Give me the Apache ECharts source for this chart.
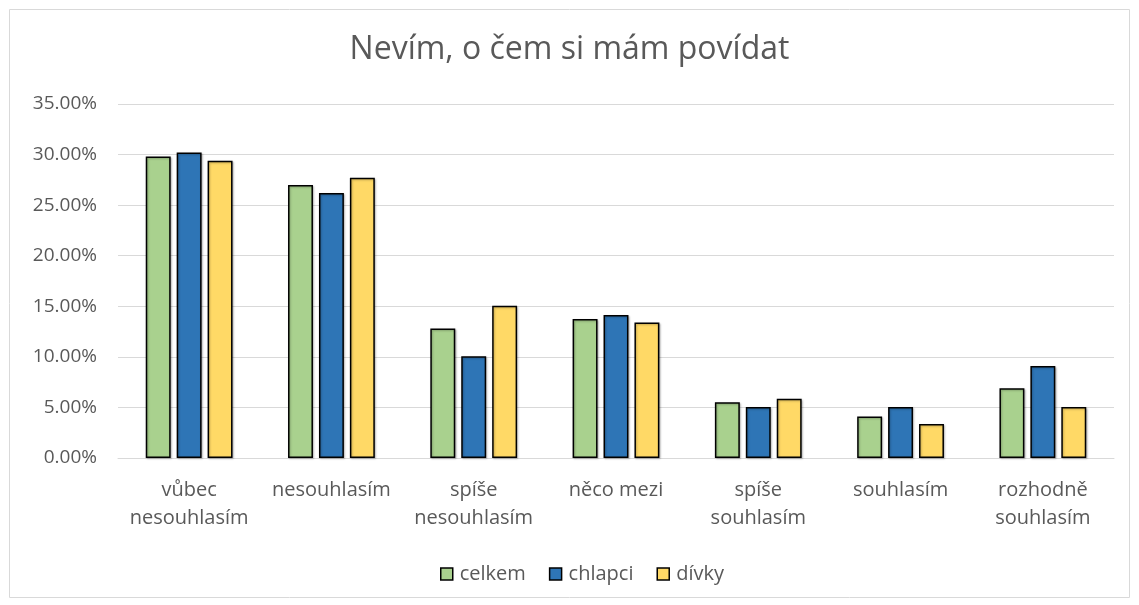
<!DOCTYPE html>
<html>
	<head>
		<meta charset="utf-8">
		<title>Nevím, o čem si mám povídat</title>
		<style type="text/css">
			html, body{
				margin: 0;
				padding: 0;
				background: #fff;
			}
			#chart{
				width: 1139px;
				height: 605px;
			}
		</style>
	</head>
	<body>
		<div id="chart"></div>

		<script src="https://cdn.jsdelivr.net/npm/echarts@6/dist/echarts.min.js"></script>
		<script>
			// 数据
			var categories = ['vůbec\nnesouhlasím', 'nesouhlasím', 'spíše\nnesouhlasím', 'něco mezi', 'spíše\nsouhlasím', 'souhlasím', 'rozhodně\nsouhlasím'];
			var celkem = [29.8, 27.0, 12.8, 13.75, 5.5, 4.1, 6.9];
			var chlapci = [30.2, 26.2, 10.05, 14.15, 5.05, 5.05, 9.1];
			var divky = [29.4, 27.7, 15.05, 13.4, 5.85, 3.35, 5.05];

			var font = '"Open Sans", Lato, sans-serif';
			var textColor = '#595959';

			var myChart = echarts.init(document.getElementById('chart'));

			function barSeries(name, data, color){
				return {
					name: name,
					type: 'bar',
					data: data,
					barGap: '24%',
					barCategoryGap: '39%',
					itemStyle: {
						color: color,
						borderColor: '#000',
						borderWidth: 1.5,
						shadowColor: 'rgba(0,0,0,0.25)',
						shadowBlur: 2,
						shadowOffsetX: 1,
						shadowOffsetY: 1
					}
				};
			}

			var option = {
				animation: false,
				textStyle: {
					fontFamily: font
				},
				title: {
					text: 'Nevím, o čem si mám povídat',
					left: 'center',
					top: 29,
					textStyle: {
						color: textColor,
						fontSize: 32,
						fontWeight: 'normal',
						fontFamily: font
					}
				},
				legend: {
					data: ['celkem', 'chlapci', 'dívky'],
					bottom: 16,
					left: 435,
					itemWidth: 12,
					itemHeight: 12,
					itemGap: 23,
					icon: 'rect',
					itemStyle: {
						borderColor: '#000',
						borderWidth: 1.5
					},
					textStyle: {
						color: textColor,
						fontSize: 20,
						padding: [0, 0, 0, 2]
					}
				},
				grid: {
					left: 118,
					right: 25,
					top: 104,
					bottom: 147,
					containLabel: false
				},
				xAxis: {
					type: 'category',
					data: categories,
					axisLine: {
						lineStyle: {
							color: '#d9d9d9',
							width: 1
						}
					},
					axisTick: {
						show: false
					},
					axisLabel: {
						color: textColor,
						fontSize: 20,
						lineHeight: 28,
						margin: 18,
						interval: 0
					}
				},
				yAxis: {
					type: 'value',
					min: 0,
					max: 35,
					interval: 5,
					axisLine: {
						show: false
					},
					axisTick: {
						show: false
					},
					splitLine: {
						lineStyle: {
							color: '#d9d9d9',
							width: 1
						}
					},
					axisLabel: {
						color: textColor,
						fontSize: 19,
						margin: 21,
						formatter: function(v){
							return v.toFixed(2) + '%';
						}
					}
				},
				graphic: [{
					type: 'rect',
					shape: {x: 9.5, y: 9.5, width: 1120, height: 588},
					style: {fill: 'none', stroke: '#d9d9d9', lineWidth: 1},
					silent: true,
					z: -1
				}],
				series: [
					barSeries('celkem', celkem, '#A9D18E'),
					barSeries('chlapci', chlapci, '#2E75B6'),
					barSeries('dívky', divky, '#FFD966')
				]
			};

			myChart.setOption(option);
		</script>
	</body>
</html>
